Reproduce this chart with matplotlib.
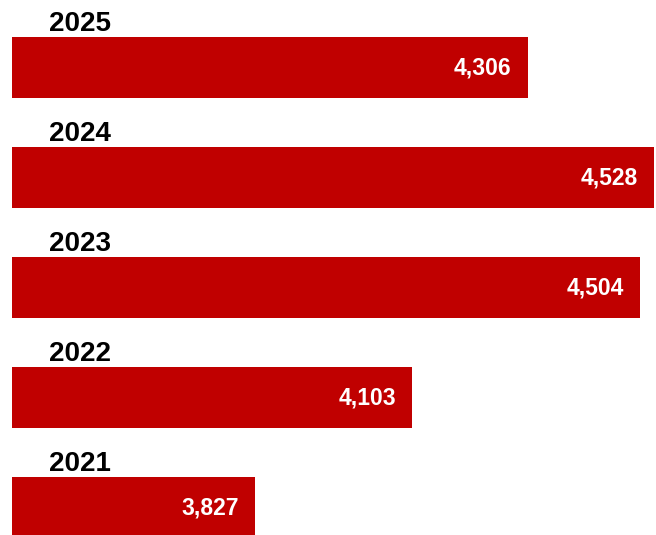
import matplotlib
matplotlib.use('Agg')
import matplotlib.pyplot as plt

# Chart data
years = ['2025', '2024', '2023', '2022', '2021']
values = [4306, 4528, 4504, 4103, 3827]

BASE = 3400
BAR_COLOR = '#C00000'
PX = 0.72  # points per pixel at dpi 100

plt.rcParams['font.family'] = ['Liberation Sans', 'DejaVu Sans']

fig = plt.figure(figsize=(6.56, 5.35), dpi=100)
ax = fig.add_axes([0, 0, 1, 1])

pos = list(range(len(years)))
bar_h = 0.555
widths = [v - BASE for v in values]
ax.barh(pos, widths, left=BASE, height=bar_h, color=BAR_COLOR)

for i, (yr, v) in enumerate(zip(years, values)):
    # value label inside bar, near right end
    ax.annotate(f'{v:,}', xy=(v, i), xytext=(-16 * PX, 0), textcoords='offset points',
                ha='right', va='center', color='white', fontsize=16.5, fontweight='bold')
    # year label above bar
    ax.annotate(yr, xy=(BASE, i - bar_h / 2), xytext=(37 * PX, 6 * PX), textcoords='offset points',
                ha='left', va='baseline', color='black', fontsize=20, fontweight='bold')

ax.set_xlim(3379, 4531.5)
ax.set_ylim(4.25, -0.614)
ax.axis('off')

fig.savefig('out.png', dpi=100)
